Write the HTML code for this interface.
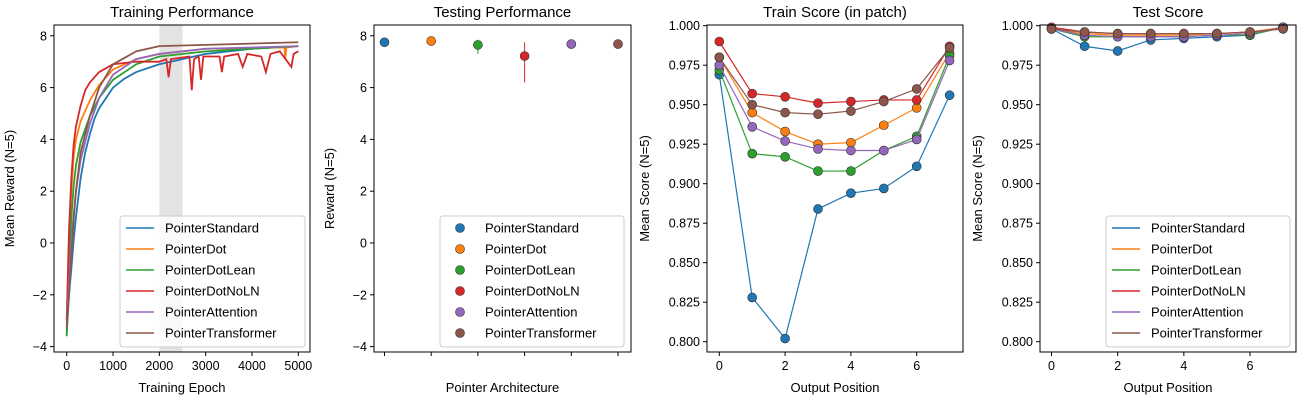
<!DOCTYPE html>
<html><head><meta charset="utf-8"><style>
body{margin:0;background:#fff}
svg{font-family:"Liberation Sans","DejaVu Sans",sans-serif}
</style></head><body>
<svg id="c" width="1300" height="400" xmlns="http://www.w3.org/2000/svg"></svg>
<script>
const names=["PointerStandard","PointerDot","PointerDotLean","PointerDotNoLN","PointerAttention","PointerTransformer"];
const colors=["#1f77b4","#ff7f0e","#2ca02c","#d62728","#9467bd","#8c564b"];
// training curves: [epoch, reward]
const trStandard=[[0,-3.5],[50,-2],[100,-1],[150,0.1],[200,1],[300,2.5],[400,3.5],[500,4.2],[600,4.8],[700,5.2],[850,5.6],[1000,6.0],[1250,6.35],[1500,6.6],[2000,6.9],[2500,7.1],[3000,7.3],[4000,7.5],[5000,7.6]];
const trDot=[[0,-3],[50,0],[100,2],[150,3.3],[200,4],[300,4.7],[500,5.5],[700,6.1],[1000,6.7],[1500,7.1],[2000,7.3],[3000,7.5],[4700,7.55],[4720,7.1],[4740,7.55],[5000,7.6]];
const trLean=[[0,-3.6],[50,-1],[100,1],[150,2.2],[200,3],[300,3.9],[500,4.9],[700,5.6],[1000,6.3],[1500,6.9],[2000,7.2],[3000,7.4],[5000,7.6]];
const trNoLN=[[0,-3],[50,0.5],[100,2.5],[150,3.8],[200,4.5],[300,5.3],[400,5.9],[500,6.2],[700,6.6],[1000,6.9],[1500,7.0],[2000,7.0],[2150,7.1],[2200,6.4],[2250,7.1],[2650,7.2],[2700,5.9],[2750,7.1],[2850,7.2],[2900,6.3],[2950,7.2],[3300,7.2],[3350,6.6],[3400,7.2],[3700,7.3],[3800,6.8],[3900,7.3],[4200,7.2],[4300,6.6],[4400,7.3],[4600,7.4],[4850,6.8],[4900,7.3],[5000,7.4]];
const trAttn=[[0,-3.2],[50,-1.5],[100,0],[150,1.1],[200,2],[300,3.2],[500,4.6],[700,5.6],[1000,6.5],[1500,7.1],[2000,7.3],[3000,7.5],[5000,7.6]];
const trTrans=[[0,-3.3],[50,-2],[100,-0.5],[150,0.9],[200,2],[300,3.5],[500,4.9],[700,6.0],[1000,6.9],[1500,7.4],[2000,7.6],[3000,7.65],[5000,7.75]];
const trainSeries=[trStandard,trDot,trLean,trNoLN,trAttn,trTrans];
const testMean=[7.75,7.8,7.65,7.22,7.68,7.68];
const testLo=[7.7,7.75,7.3,6.2,7.62,7.55];
const testHi=[7.8,7.85,7.85,7.75,7.74,7.78];
const trainScore=[
[0.969,0.828,0.802,0.884,0.894,0.897,0.911,0.956],
[0.980,0.945,0.933,0.925,0.926,0.937,0.948,0.983],
[0.972,0.919,0.917,0.908,0.908,0.921,0.930,0.981],
[0.990,0.957,0.955,0.951,0.952,0.953,0.953,0.987],
[0.975,0.936,0.927,0.922,0.921,0.921,0.928,0.978],
[0.980,0.950,0.945,0.944,0.946,0.952,0.960,0.986]];
const testScore=[
[0.998,0.987,0.984,0.991,0.992,0.993,0.994,0.999],
[0.998,0.995,0.994,0.994,0.994,0.995,0.996,0.999],
[0.998,0.993,0.993,0.993,0.993,0.994,0.994,0.999],
[0.999,0.996,0.995,0.995,0.995,0.995,0.996,0.998],
[0.998,0.994,0.993,0.993,0.993,0.994,0.995,0.999],
[0.998,0.996,0.995,0.995,0.995,0.995,0.996,0.998]];
const rewardTicks=[-4,-2,0,2,4,6,8];
const epochTicks=[0,1000,2000,3000,4000,5000];
const scoreTicks=[0.8,0.825,0.85,0.875,0.9,0.925,0.95,0.975,1.0];
const posTicks=[0,2,4,6];

const S=document.getElementById('c');const NS="http://www.w3.org/2000/svg";
function el(t,a,p){const e=document.createElementNS(NS,t);for(const k in a)e.setAttribute(k,a[k]);(p||S).appendChild(e);return e;}
function txt(x,y,s,sz,anch,p,rot){const e=el('text',{x:x,y:y,'font-size':sz,'text-anchor':anch,fill:'#000'},p);if(rot)e.setAttribute('transform',`rotate(-90 ${x} ${y})`);e.textContent=s;return e;}
const T=25,B=352;
function axes(L,R,title,xl,yl,name,yoff){
  const g=el('g',{});
  
  
  const t=txt((L+R)/2,17,title,15,'middle',g);
  
  
  if(xl){const x=txt((L+R)/2,392,xl,13,'middle',g);}
  const y=txt(L-yoff,(T+B)/2,yl,13,'middle',g,true);
  
  
  return g;
}
function frame(g,L,R){el('rect',{x:L,y:T,width:R-L,height:B-T,fill:'none',stroke:'#000','stroke-width':1},g);}
function yTicks(g,L,ticks,sy,fmt){ticks.forEach(v=>{const y=sy(v);el('line',{x1:L-4,x2:L,y1:y,y2:y,stroke:'#000'},g);txt(L-7,y+4.5,fmt(v),12.5,'end',g);});}
function xTicks(g,ticks,sx,fmt){ticks.forEach(v=>{const x=sx(v);el('line',{x1:x,x2:x,y1:B,y2:B+4,stroke:'#000'},g);if(fmt)txt(x,B+18,fmt(v),12.5,'middle',g);});}
function legend(g,x0,y0,w,marker,name){
  const lg=el('g',{},g);
  
  
  el('rect',{x:x0,y:y0,width:w,height:131,fill:'#fff','fill-opacity':0.8,stroke:'#ccc',rx:3},lg);
  names.forEach((n,i)=>{const y=y0+12+i*21;
    const it=el('g',{},lg);
    
    
    if(marker)el('circle',{cx:x0+20,cy:y,r:4.5,fill:colors[i],stroke:'#333','stroke-width':0.6},it);
    else el('line',{x1:x0+6,x2:x0+34,y1:y,y2:y,stroke:colors[i],'stroke-width':1.5},it);
    txt(x0+45,y+4.5,n,13,'start',it);});
}
// Panel 1
{const L=54,R=310;const sx=v=>66.7+v*(298.3-66.7)/5000, sy=v=>243-v*25.9;
 const g=axes(L,R,'Training Performance','Training Epoch','Mean Reward (N=5)','training-performance-chart',40);
 el('rect',{x:sx(2000),y:T,width:sx(2500)-sx(2000),height:B-T,fill:'#e3e3e3'},g);
 trainSeries.forEach((s,i)=>{const p=el('polyline',{points:s.map(d=>sx(d[0])+','+sy(d[1])).join(' '),fill:'none',stroke:colors[i],'stroke-width':1.8},g);
  
  });
 frame(g,L,R);yTicks(g,L,rewardTicks,sy,v=>v<0?'\u2212'+(-v):''+v);xTicks(g,epochTicks,sx,v=>''+v);
 legend(g,120,216,185,false,'training-legend');}
// Panel 2
{const L=374,R=631;const sx=i=>384.5+i*46.7, sy=v=>243-v*25.9;
 const g=axes(L,R,'Testing Performance','Pointer Architecture','Reward (N=5)','testing-performance-chart',40);
 testMean.forEach((v,i)=>{el('line',{x1:sx(i),x2:sx(i),y1:sy(testLo[i]),y2:sy(testHi[i]),stroke:colors[i],'stroke-width':1},g);
  const c=el('circle',{cx:sx(i),cy:sy(v),r:4.5,fill:colors[i],stroke:'#333','stroke-width':0.6},g);
  
  });
 frame(g,L,R);yTicks(g,L,rewardTicks,sy,v=>v<0?'\u2212'+(-v):''+v);xTicks(g,[0,1,2,3,4,5],sx,null);
 legend(g,440,216,184,true,'testing-legend');}
// Panels 3,4
function scorePanel(L,R,x0,x6,title,data,name,leg){
 const sx=v=>x0+v*(x6-x0)/6, sy=v=>25.7+(1-v)/0.2*316;
 const g=axes(L,R,title,'Output Position','Mean Score (N=5)',name,58);
 data.forEach((s,i)=>{const p=el('polyline',{points:s.map((v,j)=>sx(j)+','+sy(v)).join(' '),fill:'none',stroke:colors[i],'stroke-width':1.2},g);
  
  
  s.forEach((v,j)=>{const c=el('circle',{cx:sx(j),cy:sy(v),r:4.5,fill:colors[i],stroke:'#333','stroke-width':0.6},g);
   
   });});
 frame(g,L,R);yTicks(g,L,scoreTicks,sy,v=>v.toFixed(3));xTicks(g,posTicks,sx,v=>''+v);
 if(leg)legend(g,1106,216,184,false,name+'-legend');
}
scorePanel(707,963,719.3,916.7,'Train Score (in patch)',trainScore,'train-score-chart',false);
scorePanel(1040,1296,1051.5,1250,'Test Score',testScore,'test-score-chart',true);
</script>
</body></html>
